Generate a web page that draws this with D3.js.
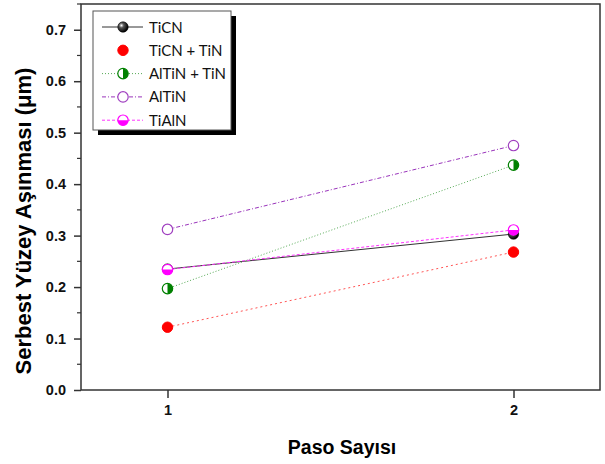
<!DOCTYPE html>
<html>
<head>
<meta charset="utf-8">
<script src="https://cdn.jsdelivr.net/npm/d3@7"></script>
<style>
  body { margin: 0; background: #fff; }
  svg { display: block; }
</style>
</head>
<body>
<div id="chart"></div>
<script>
// data
var pasos = [1, 2];
var seriesNames = ["TiCN", "TiCN + TiN", "AlTiN + TiN", "AlTiN", "TiAlN"];
var tiCN = [0.235, 0.303];
var tiCNTiN = [0.122, 0.268];
var alTiNTiN = [0.197, 0.437];
var alTiN = [0.312, 0.475];
var tiAlN = [0.234, 0.311];
var yTicks = [0.0, 0.1, 0.2, 0.3, 0.4, 0.5, 0.6, 0.7];

var W = 605, H = 464;
var margin = { top: 4, right: 5, bottom: 74, left: 81 },
    width = W - margin.left - margin.right,
    height = H - margin.top - margin.bottom;

var svg = d3.select("#chart")
    .append("svg")
    .attr("width", W)
    .attr("height", H);

var defs = svg.append("defs");
var grad = defs.append("radialGradient")
    .attr("id", "ball")
    .attr("cx", "35%").attr("cy", "35%").attr("r", "65%");
grad.append("stop").attr("offset", "0%").attr("stop-color", "#ffffff");
grad.append("stop").attr("offset", "35%").attr("stop-color", "#555");
grad.append("stop").attr("offset", "100%").attr("stop-color", "#000");

var g = svg.append("g")
    .attr("transform", "translate(" + margin.left + "," + margin.top + ")");

var x = d3.scaleLinear().domain([0.75, 2.25]).range([0, width]);
var y = d3.scaleLinear().domain([0, 0.75]).range([height, 0]);

// axes
var xAxis = g.append("g")
    .attr("transform", "translate(0," + height + ")")
    .call(d3.axisBottom(x).tickValues(pasos).tickFormat(d3.format("d")).tickSize(8).tickSizeOuter(0));
var yAxis = g.append("g")
    .call(d3.axisLeft(y).tickValues(yTicks).tickFormat(d3.format(".1f")).tickSize(7).tickSizeOuter(0));
// minor y ticks
g.append("g").selectAll("line")
    .data(yTicks.map(function(d) { return d + 0.05; }))
    .enter().append("line")
    .attr("x1", -4).attr("x2", 0)
    .attr("y1", function(d) { return y(d); })
    .attr("y2", function(d) { return y(d); })
    .attr("stroke", "#333").attr("stroke-width", 1.2);

[xAxis, yAxis].forEach(function(a) {
    a.select(".domain").remove();
    a.selectAll("line").attr("stroke", "#333").attr("stroke-width", 1.5);
    a.selectAll("text")
        .attr("fill", "#111")
        .style("font-family", "'Liberation Sans', Arial, sans-serif")
        .style("font-weight", "bold")
        .style("font-size", "14.5px");
});
yAxis.selectAll("text").attr("x", -15);
xAxis.selectAll("text").attr("y", 15);

// frame
g.append("rect")
    .attr("width", width).attr("height", height)
    .attr("fill", "none").attr("stroke", "#333").attr("stroke-width", 1.5);

// axis titles
svg.append("text")
    .attr("x", 342)
    .attr("y", 453.5)
    .attr("text-anchor", "middle")
    .style("font-family", "'Liberation Sans', Arial, sans-serif")
    .style("font-weight", "bold")
    .style("font-size", "19.5px")
    .text("Paso Sayısı");

svg.append("text")
    .attr("transform", "translate(31,221) rotate(-90)")
    .attr("text-anchor", "middle")
    .style("font-family", "'Liberation Sans', Arial, sans-serif")
    .style("font-weight", "bold")
    .style("font-size", "22px")
    .text("Serbest Yüzey Aşınması (μm)");

// series
var series = [
    { name: seriesNames[0], values: tiCN, color: "#000", stroke: "#333", dash: null, marker: "ball" },
    { name: seriesNames[1], values: tiCNTiN, color: "#ff0000", stroke: "#ff5555", dash: "2,3", marker: "full" },
    { name: seriesNames[2], values: alTiNTiN, color: "#008000", stroke: "#55aa55", dash: "1,2", marker: "halfRight" },
    { name: seriesNames[3], values: alTiN, color: "#a040c0", stroke: "#9933bb", dash: "4,2,1,2", marker: "open" },
    { name: seriesNames[4], values: tiAlN, color: "#ff00ff", stroke: "#ff33ff", dash: "3,2", marker: "halfBottom" }
];

var line = d3.line()
    .x(function(d, i) { return x(pasos[i]); })
    .y(function(d) { return y(d); });

var R = 5.2;

function drawMarker(sel, s, cx, cy) {
    var m = sel.append("g").attr("transform", "translate(" + cx + "," + cy + ")");
    if (s.marker === "ball") {
        m.append("circle").attr("r", R).attr("fill", "url(#ball)").attr("stroke", "#000").attr("stroke-width", 0.6);
    } else if (s.marker === "full") {
        m.append("circle").attr("r", R).attr("fill", s.color).attr("stroke", s.color).attr("stroke-width", 1);
    } else if (s.marker === "open") {
        m.append("circle").attr("r", R).attr("fill", "#fff").attr("stroke", s.color).attr("stroke-width", 1.2);
    } else if (s.marker === "halfRight") {
        m.append("circle").attr("r", R).attr("fill", "#fff");
        m.append("path").attr("d", "M0," + (-R) + "A" + R + "," + R + " 0 0 1 0," + R + "Z").attr("fill", s.color);
        m.append("circle").attr("r", R).attr("fill", "none").attr("stroke", s.color).attr("stroke-width", 1.2);
    } else if (s.marker === "halfBottom") {
        m.append("circle").attr("r", R).attr("fill", "#fff");
        m.append("path").attr("d", "M" + (-R) + ",0A" + R + "," + R + " 0 0 0 " + R + ",0Z").attr("fill", s.color);
        m.append("circle").attr("r", R).attr("fill", "none").attr("stroke", s.color).attr("stroke-width", 1.2);
    }
}

series.forEach(function(s) {
    g.append("path")
        .datum(s.values)
        .attr("d", line)
        .attr("fill", "none")
        .attr("stroke", s.stroke)
        .attr("stroke-width", 1)
        .attr("stroke-dasharray", s.dash);
});
series.forEach(function(s) {
    s.values.forEach(function(v, i) {
        drawMarker(g, s, x(pasos[i]), y(v));
    });
});

// legend
var lg = svg.append("g").attr("transform", "translate(93,11)");
lg.append("rect").attr("x", 5).attr("y", 5).attr("width", 138).attr("height", 119).attr("fill", "#000");
lg.append("rect").attr("width", 138).attr("height", 119).attr("fill", "#fff").attr("stroke", "#555").attr("stroke-width", 1);

series.forEach(function(s, i) {
    var yy = 16 + i * 23.3;
    if (s.marker !== "full") {
        lg.append("line")
            .attr("x1", 9).attr("x2", 50)
            .attr("y1", yy).attr("y2", yy)
            .attr("stroke", s.stroke)
            .attr("stroke-width", 1)
            .attr("stroke-dasharray", s.dash);
    }
    drawMarker(lg, s, 30, yy);
    lg.append("text")
        .attr("x", 56).attr("y", yy + 5.5)
        .style("font-family", "Lato, 'Noto Sans', sans-serif")
        .style("font-size", "15px")
        .attr("fill", "#111")
        .text(s.name);
});
</script>
</body>
</html>
